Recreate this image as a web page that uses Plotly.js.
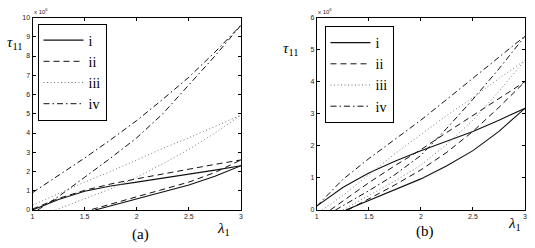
<!DOCTYPE html>
<html>
<head>
<meta charset="utf-8">
<script src="https://cdn.plot.ly/plotly-3.0.1.min.js"></script>
<style>html,body{margin:0;padding:0;background:#fff;}#chart{width:535px;height:248px;}</style>
</head>
<body>
<div id="chart"></div>
<script>
// ---- data (stress tau_11 in units of 1e6, vs stretch lambda_1) ----
var seriesNames = ["i", "ii", "iii", "iv"];
var lam = [1, 1.25, 1.5, 1.75, 2, 2.25, 2.5, 2.75, 3];
var xTickVals = [1, 1.5, 2, 2.5, 3];
var xTickText = ["1", "1.5", "2", "2.5", "3"];

// panel (a): upper (first) branch and lower (second) branch of each loop
var a_i_up_y   = [0, 0.55, 0.97, 1.25, 1.45, 1.65, 1.85, 2.07, 2.3];
var a_i_lo_x   = [1.6, 1.75, 2, 2.25, 2.5, 2.75, 3];
var a_i_lo_y   = [0, 0.22, 0.58, 0.92, 1.3, 1.75, 2.3];
var a_ii_up_y  = [0.05, 0.6, 1.02, 1.35, 1.62, 1.88, 2.12, 2.37, 2.6];
var a_ii_lo_x  = [1.57, 1.75, 2, 2.25, 2.5, 2.75, 3];
var a_ii_lo_y  = [0.03, 0.3, 0.7, 1.05, 1.45, 1.95, 2.6];
var a_iii_up_y = [0.25, 0.85, 1.45, 2.0, 2.6, 3.2, 3.75, 4.35, 4.93];
var a_iii_lo_x = [1.22, 1.5, 1.75, 2, 2.25, 2.5, 2.75, 3];
var a_iii_lo_y = [0, 0.6, 1.1, 1.7, 2.4, 3.15, 4.0, 4.93];
var a_iv_up_y  = [0.9, 1.8, 2.7, 3.65, 4.65, 5.75, 6.9, 8.2, 9.6];
var a_iv_lo_x  = [1.05, 1.25, 1.5, 1.75, 2, 2.25, 2.5, 2.75, 3];
var a_iv_lo_y  = [0, 0.7, 1.7, 2.7, 3.75, 5.0, 6.5, 8.0, 9.6];

// panel (b)
var b_i_up_x   = lam;
var b_i_up_y   = [0.12, 0.7, 1.15, 1.52, 1.85, 2.15, 2.45, 2.8, 3.17];
var b_i_lo_x   = [1.28, 1.5, 1.75, 2, 2.25, 2.5, 2.75, 3];
var b_i_lo_y   = [0, 0.3, 0.62, 0.97, 1.38, 1.85, 2.45, 3.17];
var b_ii_up_x  = [1.13, 1.25, 1.5, 1.75, 2, 2.25, 2.5, 2.75, 3];
var b_ii_up_y  = [0, 0.27, 0.85, 1.38, 1.88, 2.42, 2.95, 3.48, 4.0];
var b_ii_lo_x  = [1.3, 1.5, 1.75, 2, 2.25, 2.5, 2.75, 3];
var b_ii_lo_y  = [0, 0.35, 0.78, 1.25, 1.8, 2.45, 3.2, 4.0];
var b_iii_up_x = [1.05, 1.25, 1.5, 1.75, 2, 2.25, 2.5, 2.75, 3];
var b_iii_up_y = [0, 0.45, 1.1, 1.75, 2.35, 2.95, 3.5, 4.1, 4.67];
var b_iii_lo_x = [1.25, 1.5, 1.75, 2, 2.25, 2.5, 2.75, 3];
var b_iii_lo_y = [0, 0.45, 0.9, 1.4, 2.05, 2.8, 3.7, 4.67];
var b_iv_up_x  = lam;
var b_iv_up_y  = [0.12, 0.95, 1.6, 2.2, 2.8, 3.45, 4.1, 4.75, 5.42];
var b_iv_lo_x  = [1.18, 1.5, 1.75, 2, 2.25, 2.5, 2.75, 3];
var b_iv_lo_y  = [0, 0.6, 1.1, 1.7, 2.55, 3.45, 4.4, 5.42];

// ---- styles ----
var dashes = ["solid", "6px,4px", "1px,2.5px", "6px,3px,1.5px,3px"];
var colors = ["#111111", "#111111", "#777777", "#111111"];
var widths = [1.1, 1, 1, 1];

function loop(upx, upy, lox, loy) {
  return {x: upx.concat([null], lox), y: upy.concat([null], loy)};
}
var aLoops = [
  loop(lam, a_i_up_y, a_i_lo_x, a_i_lo_y),
  loop(lam, a_ii_up_y, a_ii_lo_x, a_ii_lo_y),
  loop(lam, a_iii_up_y, a_iii_lo_x, a_iii_lo_y),
  loop(lam, a_iv_up_y, a_iv_lo_x, a_iv_lo_y)
];
var bLoops = [
  loop(b_i_up_x, b_i_up_y, b_i_lo_x, b_i_lo_y),
  loop(b_ii_up_x, b_ii_up_y, b_ii_lo_x, b_ii_lo_y),
  loop(b_iii_up_x, b_iii_up_y, b_iii_lo_x, b_iii_lo_y),
  loop(b_iv_up_x, b_iv_up_y, b_iv_lo_x, b_iv_lo_y)
];

var traces = [];
aLoops.forEach(function (d, k) {
  traces.push({x: d.x, y: d.y, xaxis: "x", yaxis: "y", name: seriesNames[k], mode: "lines",
    connectgaps: false, legend: "legend",
    line: {color: colors[k], width: widths[k], dash: dashes[k]}});
});
bLoops.forEach(function (d, k) {
  traces.push({x: d.x, y: d.y, xaxis: "x2", yaxis: "y2", name: seriesNames[k], mode: "lines",
    connectgaps: false, legend: "legend2",
    line: {color: colors[k], width: widths[k], dash: dashes[k]}});
});

var W = 535, H = 248;
function px(v) { return v / W; }
function py(v) { return 1 - v / H; }

var tickFont = {family: "Liberation Sans, Arial, sans-serif", size: 7, color: "#222"};
function xax(domain, anchor) {
  return {domain: domain, anchor: anchor, range: [1, 3], tickvals: xTickVals, ticktext: xTickText,
    ticks: "inside", ticklen: 3, tickcolor: "#000", showline: true, linecolor: "#000", linewidth: 1,
    mirror: "ticks", showgrid: false, zeroline: false, tickfont: tickFont, fixedrange: true};
}
function yax(domain, anchor, max) {
  return {domain: domain, anchor: anchor, range: [0, max], dtick: 1,
    ticks: "inside", ticklen: 3, tickcolor: "#000", showline: true, linecolor: "#000", linewidth: 1,
    mirror: "ticks", showgrid: false, zeroline: false, tickfont: tickFont, fixedrange: true};
}
var yDom = [py(210), py(17.5)];
var serif = "Liberation Serif, Times New Roman, serif";
var legFont = {family: serif, size: 14, color: "#000"};

var layout = {
  width: W, height: H,
  margin: {l: 0, r: 0, t: 0, b: 0},
  paper_bgcolor: "#fff", plot_bgcolor: "#fff",
  xaxis: xax([px(32.5), px(241)], "y"),
  yaxis: yax(yDom, "x", 10),
  xaxis2: xax([px(316.7), px(525)], "y2"),
  yaxis2: yax(yDom, "x2", 6),
  legend: {x: px(37.5), y: py(23.5), xanchor: "left", yanchor: "top", bgcolor: "#fff",
    bordercolor: "#000", borderwidth: 1, font: legFont, itemwidth: 40, tracegroupgap: 0},
  legend2: {x: px(324.5), y: py(26), xanchor: "left", yanchor: "top", bgcolor: "#fff",
    bordercolor: "#000", borderwidth: 1, font: legFont, itemwidth: 40, tracegroupgap: 0},
  showlegend: true,
  annotations: [
    {text: "x 10<sup>6</sup>", x: px(32), y: py(11), xref: "paper", yref: "paper", xanchor: "left", yanchor: "middle",
      showarrow: false, font: {family: "Liberation Sans, Arial, sans-serif", size: 6, color: "#222"}},
    {text: "x 10<sup>6</sup>", x: px(316), y: py(11), xref: "paper", yref: "paper", xanchor: "left", yanchor: "middle",
      showarrow: false, font: {family: "Liberation Sans, Arial, sans-serif", size: 6, color: "#222"}},
    {text: "<i>τ</i><sub>11</sub>", x: px(15), y: py(43), xref: "paper", yref: "paper", xanchor: "center", yanchor: "middle",
      showarrow: false, font: {family: serif, size: 15, color: "#000"}},
    {text: "<i>τ</i><sub>11</sub>", x: px(291), y: py(49), xref: "paper", yref: "paper", xanchor: "center", yanchor: "middle",
      showarrow: false, font: {family: serif, size: 15, color: "#000"}},
    {text: "<i>λ</i><sub>1</sub>", x: px(223), y: py(229), xref: "paper", yref: "paper", xanchor: "center", yanchor: "middle",
      showarrow: false, font: {family: serif, size: 15, color: "#000"}},
    {text: "<i>λ</i><sub>1</sub>", x: px(514), y: py(224), xref: "paper", yref: "paper", xanchor: "center", yanchor: "middle",
      showarrow: false, font: {family: serif, size: 15, color: "#000"}},
    {text: "(a)", x: px(140), y: py(234), xref: "paper", yref: "paper", xanchor: "center", yanchor: "middle",
      showarrow: false, font: {family: serif, size: 15, color: "#000"}},
    {text: "(b)", x: px(425), y: py(231), xref: "paper", yref: "paper", xanchor: "center", yanchor: "middle",
      showarrow: false, font: {family: serif, size: 15, color: "#000"}}
  ]
};

Plotly.newPlot("chart", traces, layout, {staticPlot: true, displayModeBar: false});
</script>
</body>
</html>
